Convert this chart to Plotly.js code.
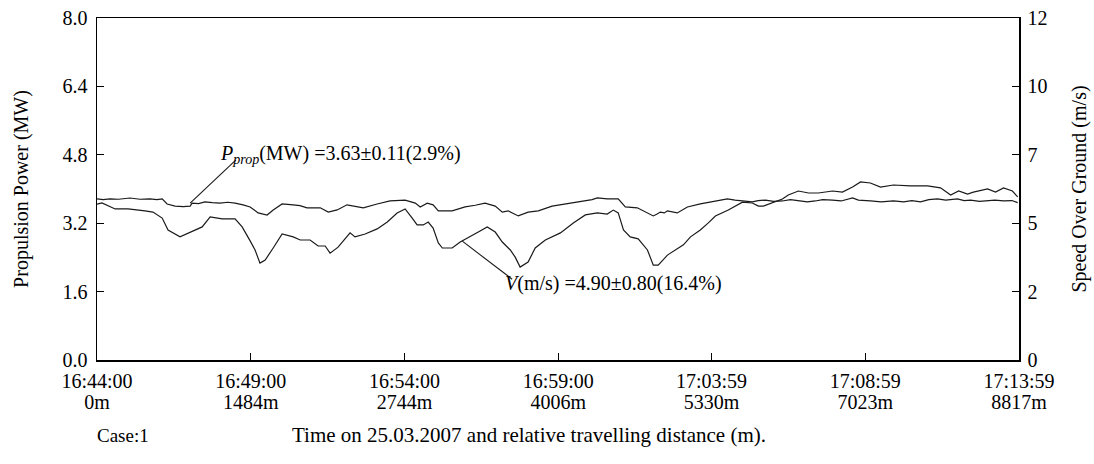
<!DOCTYPE html>
<html>
<head>
<meta charset="utf-8">
<script src="https://cdn.plot.ly/plotly-3.0.1.min.js"></script>
<style>html,body{margin:0;padding:0;background:#fff;}#chart{width:1094px;height:464px;}</style>
</head>
<body>
<div id="chart"></div>
<script>
// time in minutes after 16:44:00
const powerTime = [0,0.2,0.42,0.7,1.07,1.4,1.72,1.95,2.12,2.28,2.54,2.8,3.03,3.09,3.3,3.51,3.75,4.00,4.25,4.49,4.75,4.98,5.24,5.53,5.73,6.02,6.38,6.6,6.83,7.26,7.52,7.81,8.13,8.4,8.66,9.11,9.53,10.02,10.2,10.35,10.51,10.74,10.93,11.10,11.55,11.97,12.3,12.62,12.95,13.18,13.37,13.70,14.02,14.35,14.80,15.07,15.49,15.94,16.1,16.27,16.59,16.95,17.18,17.57,17.90,18.09,18.2,18.32,18.45,18.55,18.87,19.20,19.62,20.11,20.3,20.50,20.75,20.99,21.31,21.5,21.74,22.0,22.29,22.55,22.81,23.1,23.36,23.6,23.92,24.2,24.57,24.76,25.15,25.5,25.9,26.23,26.5,26.78,27.05,27.33,27.6,27.98,28.2,28.41,28.7,28.96,29.2,29.48,29.75,29.94];
const powerMW = [3.77,3.75,3.77,3.76,3.79,3.76,3.77,3.75,3.77,3.65,3.60,3.59,3.60,3.67,3.66,3.70,3.68,3.67,3.69,3.67,3.63,3.58,3.44,3.39,3.51,3.65,3.63,3.61,3.56,3.56,3.46,3.51,3.63,3.60,3.56,3.65,3.72,3.74,3.70,3.67,3.58,3.67,3.63,3.49,3.49,3.58,3.62,3.67,3.60,3.46,3.49,3.37,3.46,3.49,3.60,3.63,3.67,3.72,3.75,3.79,3.77,3.77,3.58,3.56,3.44,3.37,3.41,3.46,3.44,3.49,3.44,3.58,3.65,3.72,3.75,3.77,3.74,3.72,3.70,3.73,3.74,3.71,3.72,3.75,3.72,3.70,3.72,3.75,3.74,3.72,3.79,3.74,3.72,3.70,3.72,3.70,3.73,3.70,3.75,3.77,3.74,3.77,3.73,3.74,3.71,3.72,3.74,3.72,3.73,3.68];

const speedTime = [0,0.16,0.59,1.01,1.56,1.82,2.12,2.31,2.70,3.19,3.42,3.68,4.07,4.49,4.72,4.98,5.14,5.30,5.47,5.73,6.02,6.38,6.61,6.93,7.19,7.42,7.58,7.84,8.23,8.39,8.72,9.11,9.44,9.76,10.02,10.25,10.41,10.61,10.77,10.93,11.10,11.23,11.55,11.81,12.14,12.40,12.69,12.95,13.18,13.44,13.60,13.76,14.02,14.25,14.58,14.84,15.07,15.49,15.88,16.27,16.59,16.79,16.95,17.12,17.34,17.60,17.90,18.09,18.25,18.55,18.81,19.07,19.30,19.62,19.88,20.11,20.53,20.99,21.31,21.51,21.67,21.96,22.29,22.48,22.81,23.14,23.46,23.92,24.24,24.57,24.83,25.15,25.48,25.90,26.45,27.01,27.43,27.76,28.02,28.31,28.50,28.96,29.22,29.48,29.77,29.94];
const speedMS = [5.47,5.51,5.30,5.30,5.23,5.19,4.98,4.56,4.32,4.56,4.67,5.02,4.95,4.95,4.67,4.18,3.86,3.40,3.51,3.93,4.42,4.32,4.21,4.21,4.00,4.00,3.75,3.96,4.46,4.32,4.42,4.60,4.84,5.16,5.30,4.98,4.74,4.74,4.84,4.63,4.11,3.93,3.93,4.14,4.32,4.49,4.67,4.49,4.14,3.86,3.61,3.26,3.44,3.93,4.21,4.35,4.46,4.81,5.09,5.16,5.12,5.26,5.16,4.56,4.32,4.25,3.86,3.33,3.33,3.68,3.86,4.04,4.32,4.56,4.81,5.05,5.26,5.54,5.51,5.40,5.40,5.51,5.65,5.79,5.93,5.86,5.86,5.93,5.89,6.07,6.25,6.21,6.07,6.14,6.11,6.11,6.04,5.79,5.93,5.82,5.89,6.00,5.89,6.04,5.93,5.72];

const xTickVals = [0,5,10,15,19.983,24.983,29.983];
const xTickTimes = ["16:44:00","16:49:00","16:54:00","16:59:00","17:03:59","17:08:59","17:13:59"];
const xTickDist = ["0m","1484m","2744m","4006m","5330m","7023m","8817m"];
const leftTicks = [0,1.6,3.2,4.8,6.4,8.0];
const leftTickText = ["0.0","1.6","3.2","4.8","6.4","8.0"];
const rightTicks = [0,2.4,4.8,7.2,9.6,12];
const rightTickText = ["0","2","5","7","10","12"];

const serif = "Liberation Serif, Times New Roman, serif";
const lineColor = "#1a1a1a";

const traces = [
  {x: powerTime, y: powerMW, type: "scatter", mode: "lines", xaxis: "x", yaxis: "y",
   line: {color: lineColor, width: 1.2}, hoverinfo: "skip", showlegend: false},
  {x: speedTime, y: speedMS, type: "scatter", mode: "lines", xaxis: "x", yaxis: "y2",
   line: {color: lineColor, width: 1.2}, hoverinfo: "skip", showlegend: false},
  {x: [xTickVals[0]], y: [null], type: "scatter", mode: "lines", xaxis: "x2", yaxis: "y",
   hoverinfo: "skip", showlegend: false}
];

const tickFont = {family: serif, size: 20, color: "#000"};
const axisCommon = {showline: true, linecolor: "#000", linewidth: 1.5, ticks: "inside",
  ticklen: 7, tickcolor: "#000", tickwidth: 1.2, showgrid: false, zeroline: false,
  tickfont: tickFont};

const layout = {
  width: 1094, height: 464,
  margin: {l: 97, r: 75, t: 18, b: 104},
  paper_bgcolor: "#fff", plot_bgcolor: "#fff",
  font: {family: serif, color: "#000"},
  xaxis: Object.assign({}, axisCommon, {range: [0, 29.983], mirror: true,
    tickvals: xTickVals, ticktext: xTickTimes, ticklabelstandoff: 2}),
  xaxis2: {range: [0, 29.983], overlaying: "x", anchor: "y", side: "bottom",
    showline: false, ticks: "", showgrid: false, zeroline: false,
    tickvals: xTickVals, ticktext: xTickDist, tickfont: tickFont, ticklabelstandoff: 28},
  yaxis: Object.assign({}, axisCommon, {range: [0, 8], mirror: true, tickvals: leftTicks, ticktext: leftTickText,
    ticklabelstandoff: 4,
    title: {text: "Propulsion Power (MW)", font: {family: serif, size: 20}, standoff: 28}}),
  yaxis2: Object.assign({}, axisCommon, {range: [0, 12], overlaying: "y", side: "right",
    tickvals: rightTicks, ticktext: rightTickText, ticklabelstandoff: 3,
    title: {text: "Speed Over Ground (m/s)", font: {family: serif, size: 20}, standoff: 25}}),
  shapes: [
    {type: "line", xref: "x", yref: "y", x0: 3.03, y0: 3.67, x1: 4.52, y1: 4.68,
     line: {color: lineColor, width: 1.1}},
    {type: "line", xref: "x", yref: "y", x0: 11.88, y0: 2.78, x1: 13.50, y1: 1.89,
     line: {color: lineColor, width: 1.1}}
  ],
  annotations: [
    {xref: "x", yref: "y", x: 3.94, y: 4.80, xanchor: "left", yanchor: "middle", showarrow: false,
     text: "<i>P<sub>prop</sub></i>(MW) =3.63±0.11(2.9%)", font: {family: serif, size: 20, color: "#000"}},
    {xref: "x", yref: "y", x: 13.21, y: 1.80, xanchor: "left", yanchor: "middle", showarrow: false,
     text: "<i>V</i>(m/s) =4.90±0.80(16.4%)", font: {family: serif, size: 20, color: "#000"}},
    {xref: "paper", yref: "paper", x: (95 - 97) / 922, y: -(435 - 360) / 342, xanchor: "left", yanchor: "middle",
     showarrow: false, text: "Case:1", font: {family: serif, size: 19, color: "#000"}},
    {xref: "paper", yref: "paper", x: (290 - 97) / 922, y: -(435 - 360) / 342, xanchor: "left", yanchor: "middle",
     showarrow: false, text: "Time on 25.03.2007 and relative travelling distance (m).",
     font: {family: serif, size: 21, color: "#000"}}
  ]
};

Plotly.newPlot("chart", traces, layout, {staticPlot: true, displayModeBar: false});
</script>
</body>
</html>
